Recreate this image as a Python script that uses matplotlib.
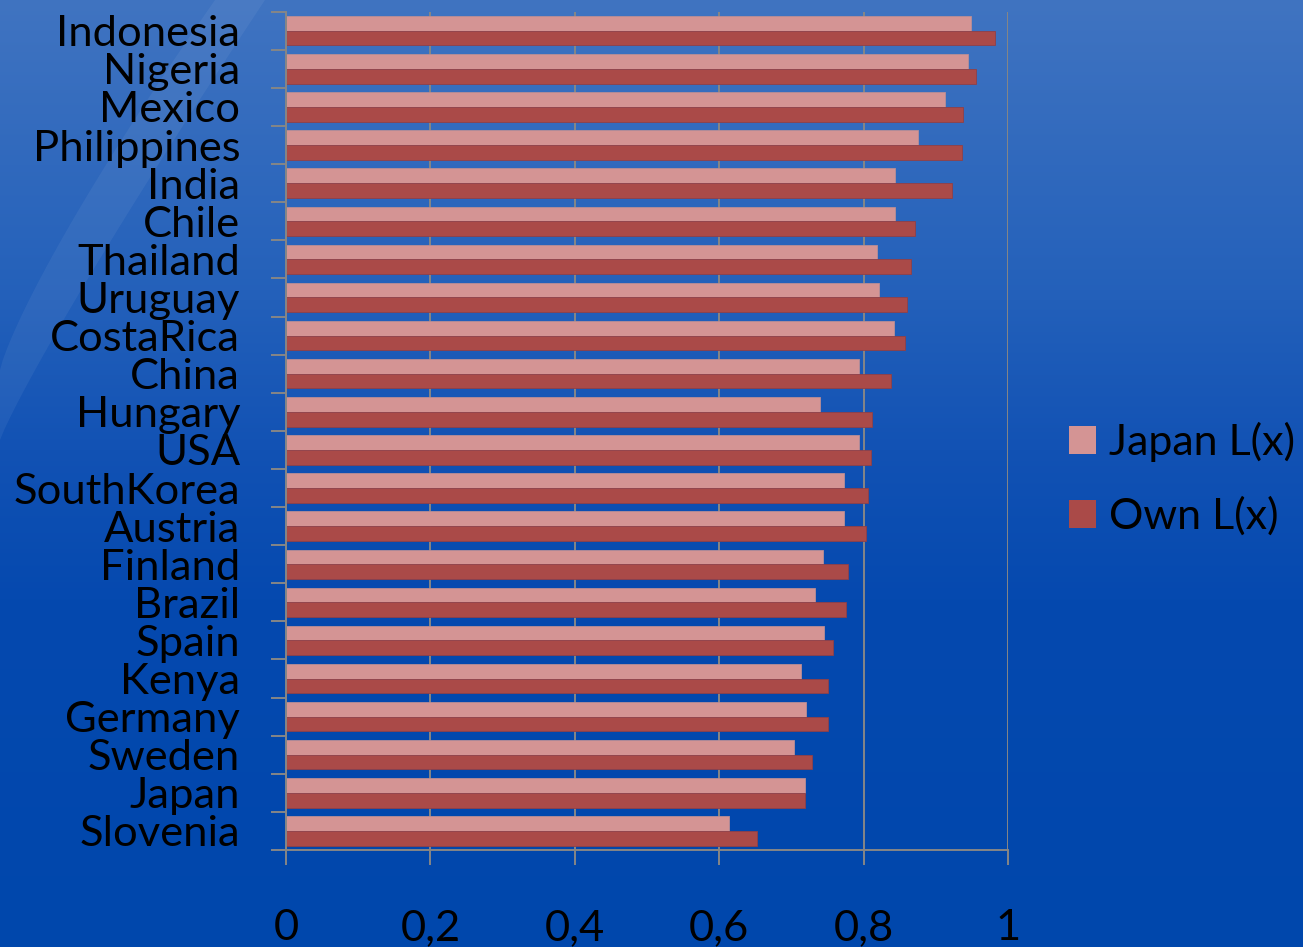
import numpy as np
import matplotlib
matplotlib.use("Agg")
import matplotlib.pyplot as plt
from matplotlib.patches import Patch, Polygon

# Datos
paises = ['Indonesia', 'Nigeria', 'Mexico', 'Philippines', 'India', 'Chile',
          'Thailand', 'Uruguay', 'CostaRica', 'China', 'Hungary', 'USA',
          'SouthKorea', 'Austria', 'Finland', 'Brazil', 'Spain', 'Kenya',
          'Germany', 'Sweden', 'Japan', 'Slovenia']
japan_lx = [0.949, 0.944, 0.913, 0.876, 0.844, 0.843, 0.818, 0.822, 0.842, 0.794,
            0.739, 0.794, 0.773, 0.773, 0.744, 0.732, 0.745, 0.713, 0.720, 0.703,
            0.719, 0.614]
own_lx = [0.982, 0.955, 0.937, 0.936, 0.922, 0.871, 0.866, 0.860, 0.857, 0.838,
          0.811, 0.810, 0.806, 0.803, 0.778, 0.775, 0.757, 0.751, 0.751, 0.729,
          0.719, 0.652]
ticks_x = [0, 0.2, 0.4, 0.6, 0.8, 1.0]
etiquetas_x = ['0', '0,2', '0,4', '0,6', '0,8', '1']

plt.rcParams['font.family'] = ['Lato', 'DejaVu Sans']

W, H = 1303, 947
fig = plt.figure(figsize=(W / 100, H / 100), dpi=100)

# Fondo degradado azul
fondo = fig.add_axes([0, 0, 1, 1], zorder=-5)
paradas = np.array([0, 300, 450, 600, 947]) / H
colores = np.array([[64, 116, 193], [35, 96, 186], [18, 82, 180],
                    [5, 73, 175], [0, 71, 172]]) / 255
yy = np.linspace(0, 1, 400)
grad = np.stack([np.interp(yy, paradas, colores[:, c]) for c in range(3)], axis=1)
fondo.imshow(grad[:, None, :], aspect='auto', extent=[0, 1, 1, 0])
fondo.set_xlim(0, 1)
fondo.set_ylim(1, 0)
fondo.axis('off')

# Reflejo diagonal arriba a la izquierda
t = np.linspace(0, 1, 40)
borde_der = np.column_stack([265 * (1 - t) ** 1.1, 440 * t])
borde_izq = np.column_stack([215 * (1 - t) ** 1.2, 370 * t])
pts = np.vstack([borde_der, borde_izq[::-1]])
pts = pts / [W, H]
fondo.add_patch(Polygon(pts, closed=True, facecolor='white', alpha=0.055,
                        edgecolor='none'))

# Gráfico de barras
ax = fig.add_axes([286 / W, 1 - 850 / H, 722 / W, (850 - 11.7) / H])
ax.set_facecolor('none')
y = np.arange(len(paises))
alto = 0.386
ax.barh(y - alto / 2, japan_lx, height=alto, color='#d49494',
        edgecolor='#b88e96', linewidth=0.6, label='Japan L(x)', zorder=3)
ax.barh(y + alto / 2, own_lx, height=alto, color='#aa4a48',
        edgecolor='#8f4048', linewidth=0.6, label='Own L(x)', zorder=3)

ax.set_xlim(0, 1)
ax.set_ylim(len(paises) - 0.5, -0.5)

gris = '#868686'
ax.set_xticks(ticks_x)
ax.set_xticklabels(etiquetas_x)
ax.set_yticks(np.arange(-0.5, len(paises)))
ax.set_yticklabels([])
ax.set_yticks(y, minor=True)
ax.set_yticklabels(paises, minor=True)
ax.tick_params(axis='y', which='major', direction='out', length=10.8,
               width=1.4, color=gris)
ax.tick_params(axis='y', which='minor', length=0, pad=33, labelsize=31.3,
               labelcolor='black')
ax.tick_params(axis='x', direction='out', length=10.8, width=1.4, color=gris,
               pad=32, labelsize=31.3, labelcolor='black')
ax.grid(axis='x', color=gris, linewidth=1.4, zorder=1)
ax.set_axisbelow(True)
for lado in ['top', 'right']:
    ax.spines[lado].set_visible(False)
for lado in ['left', 'bottom']:
    ax.spines[lado].set_color(gris)
    ax.spines[lado].set_linewidth(1.4)
    ax.spines[lado].set_zorder(4)

# Leyenda
manejadores = [Patch(facecolor='#d49494', edgecolor='none', label='Japan L(x)'),
               Patch(facecolor='#aa4a48', edgecolor='none', label='Own L(x)')]
fig.legend(handles=manejadores, loc='upper left',
           bbox_to_anchor=(1069 / W, 1 - 422 / H), frameon=False,
           fontsize=31, handlelength=0.63, handleheight=0.63,
           handletextpad=0.3, labelspacing=0.8, borderpad=0,
           borderaxespad=0)

fig.savefig('out.png', dpi=100)
